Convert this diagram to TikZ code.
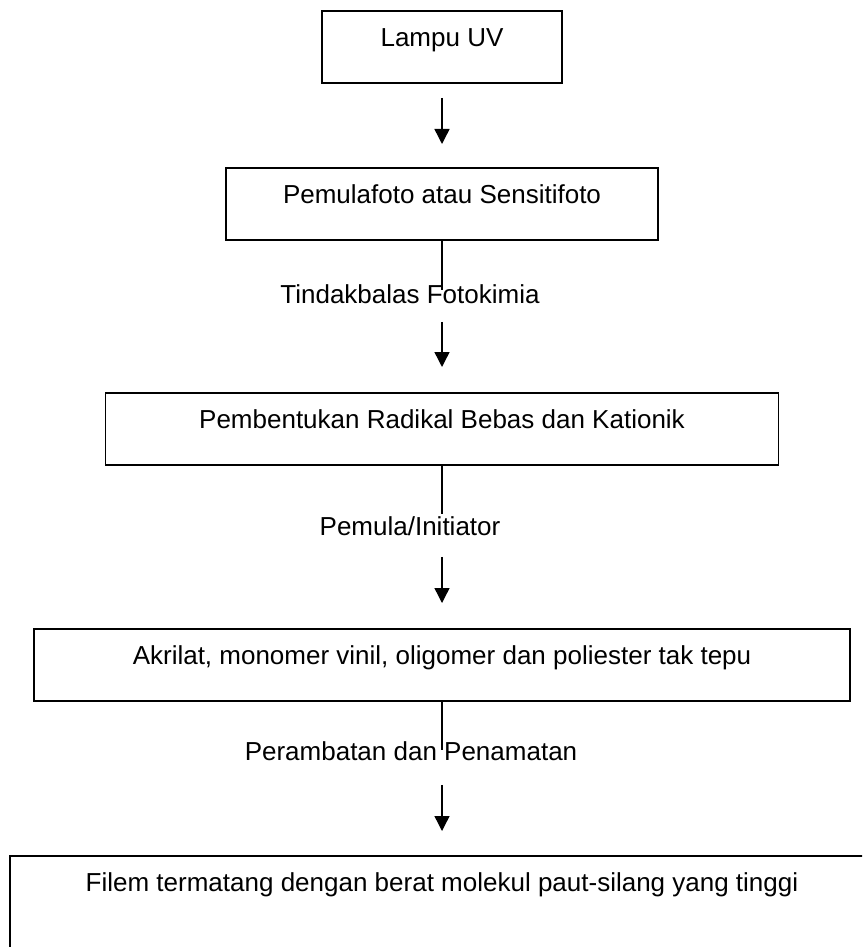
\documentclass[tikz,border=0pt]{standalone}
\usepackage{fontspec}
\setmainfont{Liberation Sans}
\usetikzlibrary{arrows.meta}
\begin{document}
\begin{tikzpicture}[x=1pt,y=-1pt,
  box/.style={draw, line width=1.8pt, inner sep=0pt, text height=36pt, text depth=36pt,
              anchor=north, font=\fontsize{26pt}{31pt}\selectfont},
  lbl/.style={inner sep=0pt, anchor=base, font=\fontsize{26pt}{31pt}\selectfont},
  conn/.style={line width=1.4pt},
  arr/.style={line width=1.4pt, -{Triangle[length=15pt,width=15pt]}}]
\path[use as bounding box, clip] (0,0) rectangle (862,947);

\node[box, minimum width=240pt] (b1) at (442,10) {Lampu UV};
\node[box, minimum width=432pt] (b2) at (442,167) {Pemulafoto atau Sensitifoto};
\node[box, minimum width=673pt] (b3) at (442,392) {Pembentukan Radikal Bebas dan Kationik};
\node[box, minimum width=816pt] (b4) at (442,628) {Akrilat, monomer vinil, oligomer dan poliester tak tepu};
\node[box, minimum width=864pt, text depth=120pt] (b5) at (442,855) {Filem termatang dengan berat molekul paut-silang yang tinggi};

\node[lbl] (l1) at (410,303) {Tindakbalas Fotokimia};
\node[lbl] (l2) at (410,535) {Pemula/Initiator};
\node[lbl] (l3) at (411,760) {Perambatan dan Penamatan};

% b1 -> b2
\draw[arr, shorten <=14pt, shorten >=23pt] (b1.south) -- (b2.north);

% b2 -> b3
\coordinate (c2a) at ([yshift=-49pt]b2.south);
\coordinate (c2b) at ([yshift=-81pt]b2.south);
\draw[conn] (b2.south) -- (c2a);
\draw[arr, shorten >=25pt] (c2b) -- (b3.north);

% b3 -> b4
\coordinate (c3a) at ([yshift=-48pt]b3.south);
\coordinate (c3b) at ([yshift=-91pt]b3.south);
\draw[conn] (b3.south) -- (c3a);
\draw[arr, shorten >=25pt] (c3b) -- (b4.north);

% b4 -> b5
\coordinate (c4a) at ([yshift=-48pt]b4.south);
\coordinate (c4b) at ([yshift=-83pt]b4.south);
\draw[conn] (b4.south) -- (c4a);
\draw[arr, shorten >=24pt] (c4b) -- (b5.north);
\end{tikzpicture}
\end{document}
